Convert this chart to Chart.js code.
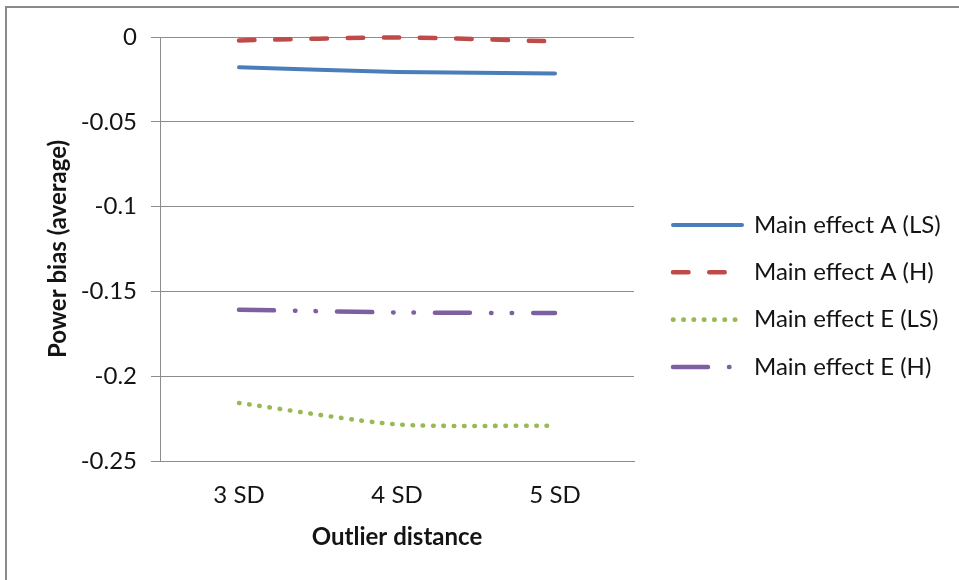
<!DOCTYPE html>
<html>
<head>
<meta charset="utf-8">
<script src="https://cdn.jsdelivr.net/npm/chart.js@4/dist/chart.umd.min.js"></script>
<style>
html,body{margin:0;padding:0;background:#fff;overflow:hidden}
#wrap{position:relative;width:959px;height:580px}
canvas{display:block}
</style>
</head>
<body>
<div id="wrap"><canvas id="c" width="959" height="580"></canvas></div>
<script>
// ---- data ----
const categories = ['3 SD', '4 SD', '5 SD'];
const seriesNames = ['Main effect A (LS)', 'Main effect A (H)', 'Main effect E (LS)', 'Main effect E (H)'];
const mainEffectA_LS = [-0.0179, -0.0206, -0.0215];
const mainEffectA_H  = [-0.0020, -0.0003, -0.0026];
const mainEffectE_LS = [-0.2158, -0.2284, -0.2292];
const mainEffectE_H  = [-0.1608, -0.1624, -0.1628];
const yTickLabels = ['0', '-0.05', '-0.1', '-0.15', '-0.2', '-0.25'];
const yMin = -0.25, yMax = 0, yStep = 0.05;
const xTitle = 'Outlier distance';
const yTitle = 'Power bias (average)';

// ---- style ----
const FONT = 'Lato';
const TICK_SIZE = 24, LEG_SIZE = 24, TITLE_SIZE = 24;
const TEXT = '#141414';
const GRID = '#8c8c8c';
const LEG_PAD = 23.3, LEG_LINE = 69;

Chart.defaults.font.family = FONT;
Chart.defaults.color = TEXT;

// measure legend text to place legend
const mctx = document.createElement('canvas').getContext('2d');
mctx.font = `normal ${LEG_SIZE}px ${FONT}`;
const legTextW = Math.max(...seriesNames.map(n => mctx.measureText(n).width));
const legendLeft = 673 - LEG_PAD;
const legendW = LEG_PAD + LEG_LINE + LEG_SIZE / 2 + legTextW + 10;
const padRight = Math.max(0, 959 - legendLeft - legendW);
const plotRight = 634;

const frame = {
  id: 'frame',
  beforeDraw(chart) {
    const c = chart.ctx;
    c.save();
    c.fillStyle = '#ffffff';
    c.fillRect(0, 0, chart.width, chart.height);
    c.fillStyle = '#8a8a8a';
    c.fillRect(5, 6, 2, chart.height - 6);
    c.fillRect(5, 6, chart.width - 5, 2);
    c.restore();
  }
};

function ds(label, data, color, dash, width) {
  return {
    label, data,
    borderColor: color, backgroundColor: color,
    borderWidth: width, borderDash: dash, borderCapStyle: 'round',
    pointRadius: 0, pointHoverRadius: 0,
    tension: 0.25, fill: false, clip: false
  };
}

new Chart(document.getElementById('c'), {
  type: 'line',
  data: {
    labels: categories,
    datasets: [
      ds(seriesNames[0], mainEffectA_LS, '#4a7ebb', [], 4),
      ds(seriesNames[1], mainEffectA_H, '#be4b48', [15.5, 20.7], 4.5),
      ds(seriesNames[2], mainEffectE_LS, '#98b954', [0.5, 9.8], 4.6),
      ds(seriesNames[3], mainEffectE_H, '#7d60a0', [35, 21, 0.5, 20, 0.5, 21], 4.5)
    ]
  },
  options: {
    responsive: false,
    animation: false,
    devicePixelRatio: 1,
    layout: { padding: { top: 37, bottom: 25, left: 0, right: padRight } },
    plugins: {
      legend: {
        position: 'right',
        align: 'center',
        maxWidth: 500,
        labels: {
          usePointStyle: true,
          pointStyle: 'line',
          pointStyleWidth: LEG_LINE,
          padding: LEG_PAD,
          color: TEXT,
          font: { size: LEG_SIZE, family: FONT },
          generateLabels(chart) {
            return chart.data.datasets.map((d, i) => ({
              text: d.label,
              fillStyle: d.borderColor,
              strokeStyle: d.borderColor,
              lineWidth: d.borderWidth,
              lineDash: d.borderDash,
              lineCap: d.borderCapStyle,
              pointStyle: 'line',
              hidden: false,
              datasetIndex: i,
              fontColor: TEXT
            }));
          }
        }
      },
      tooltip: { enabled: false }
    },
    scales: {
      x: {
        offset: true,
        grid: { display: false, drawTicks: false },
        border: { display: true, color: GRID, width: 1 },
        ticks: { padding: 20, color: TEXT, font: { size: TICK_SIZE, family: FONT } },
        title: { display: true, text: xTitle, color: TEXT, font: { size: TITLE_SIZE, weight: 'bold', family: FONT }, padding: { top: 0, bottom: 3 } },
        afterFit(s) { s.height = 94; }
      },
      y: {
        min: yMin, max: yMax,
        grid: { color: GRID, lineWidth: 1, tickLength: 9, drawTicks: true },
        border: { display: true, color: GRID, width: 1 },
        ticks: {
          stepSize: yStep, padding: 14, color: TEXT,
          font: { size: TICK_SIZE, family: FONT },
          callback: (v) => yTickLabels[Math.round(-v / yStep)]
        },
        title: { display: true, text: yTitle, color: TEXT, font: { size: TITLE_SIZE, weight: 'bold', family: FONT }, padding: { top: 44, bottom: 0 } },
        afterFit(s) { s.width = 160; }
      },
      spacer: {
        position: 'right',
        display: true,
        grid: { display: false, drawTicks: false },
        border: { display: false },
        ticks: { display: false },
        afterFit(s) { s.width = legendLeft - plotRight; }
      }
    }
  },
  plugins: [frame]
});
</script>
</body>
</html>
